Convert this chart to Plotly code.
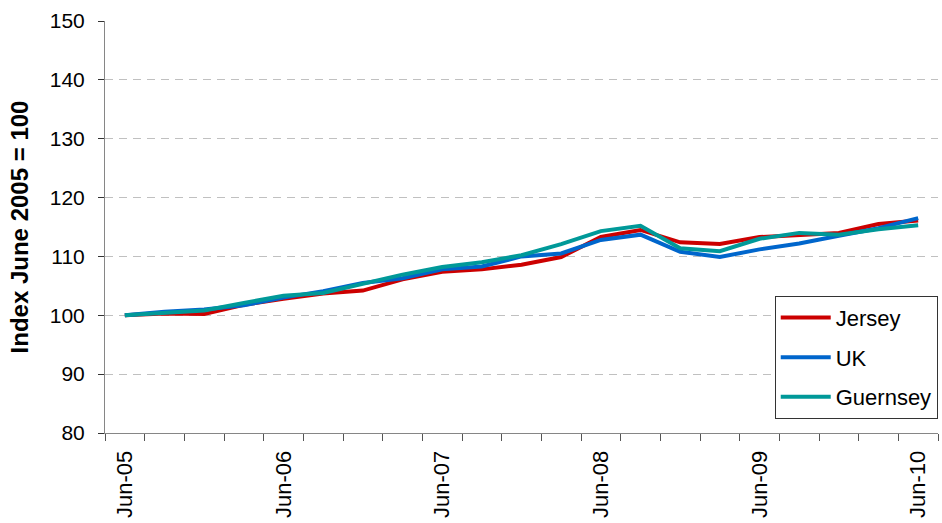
import plotly.graph_objects as go

# Quarterly index values, June 2005 = 100
quarters = [
    "Jun-05", "Sep-05", "Dec-05", "Mar-06",
    "Jun-06", "Sep-06", "Dec-06", "Mar-07",
    "Jun-07", "Sep-07", "Dec-07", "Mar-08",
    "Jun-08", "Sep-08", "Dec-08", "Mar-09",
    "Jun-09", "Sep-09", "Dec-09", "Mar-10",
    "Jun-10",
]
jersey = [100.0, 100.3, 100.2, 101.8, 102.8, 103.7, 104.2, 106.1, 107.4, 107.8, 108.6,
          109.9, 113.3, 114.5, 112.4, 112.1, 113.3, 113.7, 114.0, 115.5, 116.1]
uk = [100.0, 100.6, 101.0, 101.7, 103.0, 104.1, 105.5, 106.3, 107.8, 108.3, 110.0,
      110.5, 112.8, 113.7, 110.8, 109.9, 111.2, 112.2, 113.5, 114.8, 116.5]
guernsey = [100.0, 100.4, 100.8, 102.1, 103.3, 103.8, 105.3, 106.9, 108.2, 109.0, 110.2,
            112.1, 114.3, 115.2, 111.4, 110.9, 113.0, 114.0, 113.7, 114.6, 115.3]

series_names = ["Jersey", "UK", "Guernsey"]
series_colors = ["#CC0000", "#0066CC", "#009999"]

# Annual labels on the June quarters
label_idx = [i for i, q in enumerate(quarters) if q.startswith("Jun")]
label_text = [quarters[i] for i in label_idx]

idx = list(range(len(quarters)))
font_family = "Liberation Sans, Arial, sans-serif"

fig = go.Figure()
for name, vals, color in zip(series_names, [jersey, uk, guernsey], series_colors):
    fig.add_trace(go.Scatter(
        x=idx, y=vals, name=name, mode="lines", legendgroup=name,
        line=dict(color=color, width=4),
        hovertemplate="%{text}: %{y}<extra>" + name + "</extra>",
        text=quarters,
    ))

fig.update_layout(
    width=942, height=523,
    margin=dict(l=105, r=4, t=21, b=90, autoexpand=False),
    paper_bgcolor="white", plot_bgcolor="white",
    font=dict(family=font_family, color="black"),
    showlegend=True,
    legend=dict(
        x=0.804, y=0.333, xanchor="left", yanchor="top",
        bgcolor="white", bordercolor="#333333", borderwidth=1,
        font=dict(size=22, family=font_family, color="black"),
        traceorder="grouped", tracegroupgap=8, itemwidth=50,
    ),
)

fig.update_xaxes(
    range=[-0.5, len(quarters) - 0.5],
    tickmode="array", tickvals=label_idx, ticktext=label_text,
    tickangle=-90, tickfont=dict(size=22, color="black"),
    ticks="outside", ticklen=8, tickcolor="rgba(0,0,0,0)",
    showgrid=False, zeroline=False,
    showline=True, linecolor="#868686", linewidth=1,
    minor=dict(tick0=0.5, dtick=1, ticks="outside", ticklen=7,
               tickcolor="#555555", showgrid=False),
)

fig.update_yaxes(
    range=[80, 150], dtick=10, tick0=80,
    tickfont=dict(size=21, color="black"),
    ticks="outside", ticklen=6, tickcolor="#333333", ticklabelstandoff=9,
    showgrid=True, gridcolor="#c0c0c0", gridwidth=1, griddash="8px,6px",
    zeroline=False,
    showline=True, linecolor="#868686", linewidth=1,
    title=dict(text="<b>Index June 2005 = 100</b>",
               font=dict(size=24, color="black"), standoff=14),
)

fig.write_html("out.html")
